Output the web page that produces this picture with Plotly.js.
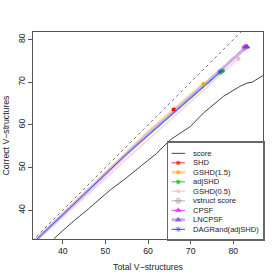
<!DOCTYPE html>
<html><head><meta charset="utf-8">
<script src="https://cdn.plot.ly/plotly-3.0.1.min.js"></script>
<style>html,body{margin:0;padding:0;background:#fff}#c{width:280px;height:280px}</style>
</head><body><div id="c"></div>
<script>
// ---- data ----
const scoreX = [37.9, 42, 46, 51.2, 54.3, 58, 62, 65.2, 69.9, 73, 77.7, 81.5, 83.2, 84.4, 87.5];
const scoreY = [33.3, 37, 40.3, 44.8, 47.1, 50, 53.3, 56.5, 59.6, 62.8, 66.7, 69.0, 69.8, 70.0, 71.9];

const shdX = [33.5, 50, 66.0];      const shdY = [32.8, 48.4, 63.6];
const gshd15X = [33.5, 50, 60, 73.0]; const gshd15Y = [32.8, 48.7, 58.3, 69.6];
const adjX = [33.5, 55, 77.5];      const adjY = [32.7, 53.0, 72.7];
const gshd05X = [33.5, 55, 81.2];   const gshd05Y = [32.5, 52.0, 75.5];
const vstructX = [33.5, 58, 82.6];  const vstructY = [32.7, 55.9, 78.1];
const cpsfX = [33.5, 58, 82.8];     const cpsfY = [32.8, 56.0, 78.3];
const lncpsfX = [33.5, 58, 83.2];   const lncpsfY = [32.8, 56.0, 78.3];
const dagX = [33.5, 55, 76.9];      const dagY = [32.8, 53.2, 72.4];

const seriesNames = ["score","SHD","GSHD(1.5)","adjSHD","GSHD(0.5)","vstruct score","CPSF","LNCPSF","DAGRand(adjSHD)"];
const xTicks = [40, 50, 60, 70, 80];
const yTicks = [40, 50, 60, 70, 80];

// ---- styles ----
const styles = [
  {lc:"#444444", lw:1, sym:null, mc:null},
  {lc:"#ff3030", lw:1, sym:"square", mc:"#ee1111", ms:3},
  {lc:"#ffd99a", lw:3, sym:"circle", mc:"#ffa500", ms:3.5},
  {lc:"#22cc22", lw:1, sym:"square", mc:"#11bb11", ms:3},
  {lc:"#ffd0d8", lw:1.5, sym:"circle", mc:"#ffb6c1", ms:3.5},
  {lc:"#b9aac4", lw:1, sym:"circle-cross-open", mc:"#9c8aa8", ms:5},
  {lc:"#ff33ff", lw:1, sym:"triangle-up", mc:"#ff00ff", ms:5},
  {lc:"#cdb0ec", lw:3, sym:"triangle-up", mc:"#7a3fc4", ms:5},
  {lc:"#3050ff", lw:1, sym:"asterisk-open", mc:"#2040ff", ms:5}
];
const seriesX = [scoreX, shdX, gshd15X, adjX, gshd05X, vstructX, cpsfX, lncpsfX, dagX];
const seriesY = [scoreY, shdY, gshd15Y, adjY, gshd05Y, vstructY, cpsfY, lncpsfY, dagY];

const traces = [];
// reference y = x
traces.push({x:[0,100], y:[0,100], mode:"lines", line:{color:"#777", width:1, dash:"dot"}, hoverinfo:"skip", showlegend:false});
seriesX.forEach((xs, i) => {
  const s = styles[i];
  traces.push({x:xs, y:seriesY[i], mode:"lines", line:{color:s.lc, width:s.lw}, showlegend:false, name:seriesNames[i]});
});
seriesX.forEach((xs, i) => {
  const s = styles[i];
  if (!s.sym) return;
  const n = xs.length;
  traces.push({x:[xs[n-1]], y:[seriesY[i][n-1]], mode:"markers",
    marker:{symbol:s.sym, color:s.mc, size:s.ms, line:{color:s.mc, width:0.8}}, showlegend:false});
});

// legend drawn in an overlapping subplot
const annotations = [];
seriesNames.forEach((nm, i) => {
  const s = styles[i];
  const t = {x:[3.4, 10, 16.7], y:[i, i, i], xaxis:"x2", yaxis:"y2",
    mode: "lines", line:{color:s.lc, width:s.lw}, showlegend:false, hoverinfo:"skip"};
  if (s.sym) {
    t.mode = "lines+markers";
    t.marker = {symbol:s.sym, color:s.mc, size:[0, s.ms, 0], line:{color:s.mc, width:0.8}};
  }
  traces.push(t);
  annotations.push({x:23, y:i, xref:"x2", yref:"y2", text:nm, showarrow:false, xanchor:"left", yanchor:"middle",
    font:{family:"Liberation Sans, Arial, sans-serif", size:7.6, color:"#222"}});
});

const axFont = {family:"Liberation Sans, Arial, sans-serif", size:8.7, color:"#222"};
const layout = {
  width:280, height:280,
  margin:{l:33, r:17, t:32, b:41},
  paper_bgcolor:"#fff", plot_bgcolor:"#fff",
  font: axFont,
  showlegend:false,
  xaxis:{range:[33.03, 86.95], tickvals:xTicks, ticktext:xTicks.map(String), ticks:"outside", ticklen:4, tickcolor:"#555",
    showgrid:false, zeroline:false, showline:true, mirror:true, linecolor:"#555", linewidth:1,
    tickfont:axFont, title:{text:"Total V\u2212structures", font:axFont, standoff:8}},
  yaxis:{range:[33.26, 81.76], tickvals:yTicks, ticktext:yTicks.map(String), ticks:"outside", ticklen:4, tickcolor:"#555",
    showgrid:false, zeroline:false, showline:true, mirror:true, linecolor:"#555", linewidth:1, tickangle:-90,
    tickfont:axFont, title:{text:"Correct V\u2212structures", font:axFont, standoff:5}},
  xaxis2:{domain:[0.588, 1], range:[0, 94.7], anchor:"y2", showgrid:false, zeroline:false, showticklabels:false,
    ticks:"", showline:true, mirror:true, linecolor:"#666", linewidth:1.5, fixedrange:true},
  yaxis2:{domain:[0, 0.465], range:[9.02, -1.116], anchor:"x2", showgrid:false, zeroline:false, showticklabels:false,
    ticks:"", showline:true, mirror:true, linecolor:"#666", linewidth:1.5, fixedrange:true},
  annotations: annotations
};
Plotly.newPlot("c", traces, layout, {staticPlot:true, displayModeBar:false});
</script></body></html>
